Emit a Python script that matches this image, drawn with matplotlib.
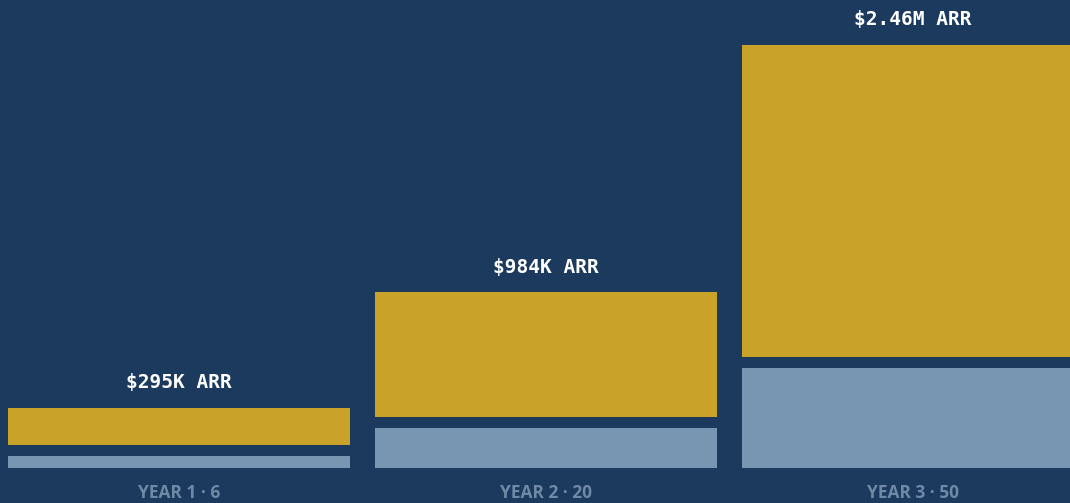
import matplotlib
matplotlib.use('Agg')
import matplotlib.pyplot as plt

# data
years = ['YEAR 1', 'YEAR 2', 'YEAR 3']
customers = [6, 20, 50]
arr_k = [295, 984, 2460]
arr_labels = ['$295K ARR', '$984K ARR', '$2.46M ARR']

BG = '#1b3a5d'
GOLD = '#c9a229'
STEEL = '#7895b2'
MUTED = '#6f89a6'

PX_PER_CUSTOMER = 2.0
PX_PER_K = 0.127
GAP = 11
STEP = 367
WIDTH = 342

fig = plt.figure(figsize=(10.70, 5.03), dpi=100, facecolor=BG)
ax = fig.add_axes([0, 0, 1, 1])
ax.set_facecolor(BG)
ax.set_xlim(0, 1070)
ax.set_ylim(-35, 468)
ax.axis('off')

xs = [179 + i * STEP for i in range(len(years))]
blue_h = [c * PX_PER_CUSTOMER for c in customers]
gold_h = [a * PX_PER_K for a in arr_k]
gold_bottom = [b + GAP for b in blue_h]

ax.bar(xs, blue_h, width=WIDTH, color=STEEL, linewidth=0)
ax.bar(xs, gold_h, bottom=gold_bottom, width=WIDTH, color=GOLD, linewidth=0)

for x, b, h, lab, yr, c in zip(xs, gold_bottom, gold_h, arr_labels, years, customers):
    ax.text(x, b + h + 25, lab, ha='center', va='center', color='white',
            fontsize=14, fontweight='bold', family='DejaVu Sans Mono')
    ax.text(x, -25, f'{yr} \u00b7 {c}', ha='center', va='center', color=MUTED,
            fontsize=12.5, fontweight='bold', family='Open Sans')

fig.savefig('out.png', dpi=100, facecolor=BG)
